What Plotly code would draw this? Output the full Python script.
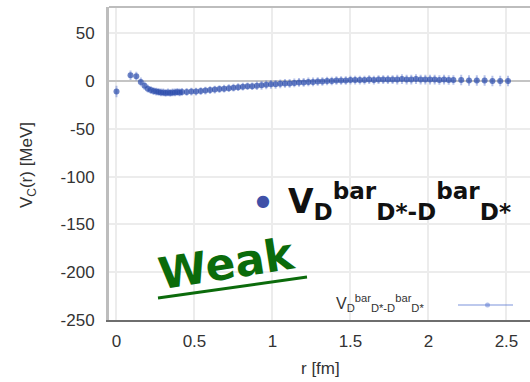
import plotly.graph_objects as go

# ---- data ----
r_fm = [0.00, 0.09, 0.127, 0.156, 0.18, 0.201, 0.22, 0.238, 0.255, 0.27, 0.285, 0.30, 0.315, 0.33,
        0.345, 0.36, 0.375, 0.39, 0.405, 0.42,
        0.45, 0.48, 0.51, 0.54, 0.57, 0.60, 0.63, 0.66, 0.69, 0.72, 0.75, 0.78, 0.81, 0.84, 0.87,
        0.90, 0.93, 0.96, 0.99, 1.02, 1.05, 1.08, 1.11, 1.14, 1.17, 1.20, 1.23, 1.26, 1.29, 1.32,
        1.35, 1.38, 1.41, 1.44, 1.47, 1.50, 1.53, 1.56, 1.59, 1.62, 1.65, 1.68, 1.71, 1.74, 1.77,
        1.80, 1.83, 1.86, 1.89, 1.92, 1.95, 1.98, 2.01, 2.04, 2.07, 2.10, 2.13, 2.16,
        2.21, 2.26, 2.31, 2.36, 2.41, 2.46, 2.51]
v_mev = [-11, 6, 5, -1, -5, -8, -9.5, -10.5, -11, -11.5, -12, -12, -12.5, -12,
         -12.5, -12, -12, -11.5, -12, -11.5,
         -11.5, -11, -11, -10.5, -10, -9.5, -9, -8.5, -8, -7.5, -7, -6.5, -6, -5.5, -5.5,
         -5, -4.5, -4, -3.5, -3.5, -3, -2.5, -2.5, -2, -1.5, -1.5, -1, -1, -0.5, -0.5,
         0, 0, 0.5, 0.5, 0.5, 1, 1, 1, 1, 1.5, 1, 1.5, 1.5, 1.5, 1.5,
         1.5, 2, 1.5, 1.5, 2, 1.5, 1.5, 1.5, 1.5, 1, 1.5, 1, 1,
         1, 0.5, 0.5, 0.5, 0, 0, 0]
v_err = [5, 4, 3.5, 3.5, 3.5, 3, 3, 3, 3, 3, 3, 3, 3, 3,
         3, 3, 3, 3, 3, 3,
         3, 3, 3, 3, 3, 3, 3, 3, 3, 3, 3, 3, 3, 3, 3,
         3.5, 3.5, 3.5, 3.5, 3.5, 3.5, 3.5, 3.5, 3.5, 3.5, 3.5, 3.5, 3.5, 3.5, 3.5,
         3.5, 3.5, 3.5, 3.5, 3.5, 3.5, 3.5, 3.5, 3.5, 3.5, 3.5, 3.5, 3.5, 3.5, 3.5,
         4, 4, 4, 4, 4, 4, 4, 4, 4, 4, 4, 4, 4,
         4.5, 4.5, 4.5, 4.5, 4.5, 4.5, 4.5]

x_ticks = [0, 0.5, 1, 1.5, 2, 2.5]
x_tick_text = ["0", "0.5", "1", "1.5", "2", "2.5"]
y_ticks = [50, 0, -50, -100, -150, -200, -250]
y_tick_text = ["50", "0", "-50", "-100", "-150", "-200", "-250"]

series_name = "V<sub>D</sub><sup>bar</sup><sub>D*-D</sub><sup>bar</sup><sub>D*</sub>"

# ---- geometry ----
W, H = 530, 382
ml, mr, mt, mb = 109, 0, 7, 62
x_range = [-0.048, 2.651]
y_range = [-250, 77.4]

fig = go.Figure()
fig.add_trace(go.Scatter(
    x=r_fm, y=v_mev, mode="markers",
    marker=dict(size=6, color="rgba(45,78,172,0.7)", line=dict(width=0)),
    error_y=dict(type="data", array=v_err, visible=True,
                 color="rgba(70,100,200,0.4)", thickness=2, width=1),
    showlegend=False, name="V",
))

tick_font = dict(family="Liberation Sans, Arial, sans-serif", size=17, color="#333")

fig.update_layout(
    width=W, height=H,
    margin=dict(l=ml, r=mr, t=mt, b=mb, pad=0),
    paper_bgcolor="white", plot_bgcolor="white",
    showlegend=False,
    xaxis=dict(range=x_range, tickvals=x_ticks, ticktext=x_tick_text,
               showgrid=True, gridcolor="#ececec", gridwidth=2,
               zeroline=False, showline=True, linecolor="#6e6e6e", linewidth=2,
               ticks="outside", ticklen=5, tickcolor="rgba(0,0,0,0)",
               tickfont=tick_font, fixedrange=True),
    yaxis=dict(range=y_range, tickvals=y_ticks, ticktext=y_tick_text,
               showgrid=True, gridcolor="#ececec", gridwidth=2,
               zeroline=True, zerolinecolor="#c4c4c4", zerolinewidth=2,
               showline=True, linecolor="#bdbdbd", linewidth=3,
               ticks="outside", ticklen=8, tickcolor="rgba(0,0,0,0)",
               tickfont=tick_font, fixedrange=True),
)

# top frame line
fig.add_shape(type="line", xref="paper", yref="paper", x0=0, x1=1, y0=1, y1=1,
              line=dict(color="#bdbdbd", width=2))

def px2x(px):
    return x_range[0] + (px - ml) / (W - ml - mr) * (x_range[1] - x_range[0])

def py2y(py):
    return y_range[1] - (py - mt) / (H - mt - mb) * (y_range[1] - y_range[0])

# axis titles
fig.add_annotation(text="r [fm]", xref="paper", yref="paper",
                   x=(320 - ml) / (W - ml - mr), y=-(368 - (H - mb)) / (H - mt - mb),
                   showarrow=False, xanchor="center", yanchor="middle",
                   font=dict(family="Liberation Sans, Arial, sans-serif", size=17, color="#333"))
fig.add_annotation(text="V<sub>C</sub>(r) [MeV]", xref="paper", yref="paper",
                   x=-(ml - 28) / (W - ml - mr), y=(H - mb - 165) / (H - mt - mb),
                   textangle=-90, showarrow=False, xanchor="center", yanchor="middle",
                   font=dict(family="Liberation Sans, Arial, sans-serif", size=17, color="#333"))

# big label with dot
fig.add_annotation(text="●", x=px2x(263), y=py2y(200), showarrow=False,
                   xanchor="center", yanchor="middle",
                   font=dict(family="DejaVu Sans", size=16, color="#3f51a8"))
fig.add_annotation(text="<b>" + series_name + "</b>", x=px2x(286), y=py2y(201), showarrow=False,
                   xanchor="left", yanchor="middle",
                   font=dict(family="DejaVu Sans", size=33, color="#111"))

# Weak
fig.add_annotation(text="<b>Weak</b>", x=px2x(226), y=py2y(263), showarrow=False,
                   textangle=-9, xanchor="center", yanchor="middle",
                   font=dict(family="DejaVu Sans", size=44, color="#0b6b0b"))
fig.add_shape(type="line", x0=px2x(158), y0=py2y(298), x1=px2x(307), y1=py2y(277),
              line=dict(color="#0b6b0b", width=3))

# small legend (text left, sample right)
fig.add_annotation(text=series_name, x=px2x(334), y=py2y(303), showarrow=False,
                   xanchor="left", yanchor="middle",
                   font=dict(family="Liberation Sans, Arial, sans-serif", size=16, color="#333"))
fig.add_shape(type="line", x0=px2x(458), y0=py2y(305), x1=px2x(513), y1=py2y(305),
              line=dict(color="rgba(90,120,210,0.4)", width=2))
fig.add_shape(type="circle", x0=px2x(485), y0=py2y(302.5), x1=px2x(490), y1=py2y(307.5),
              line=dict(width=0), fillcolor="rgba(90,120,210,0.5)")

fig.write_html("out.html", config=dict(displayModeBar=False))
